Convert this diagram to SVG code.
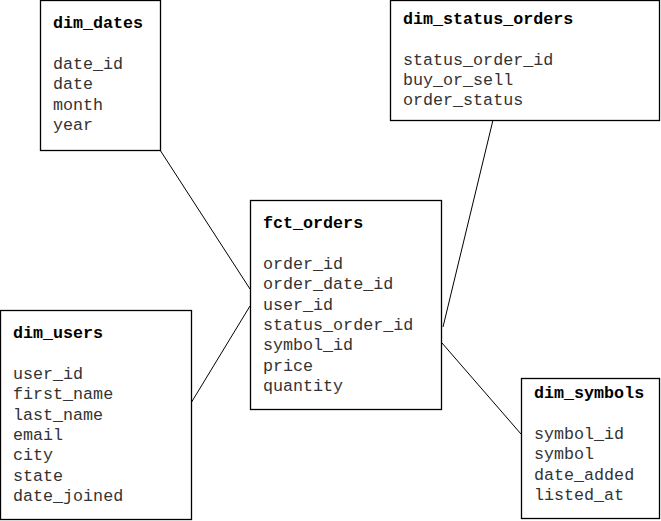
<svg xmlns="http://www.w3.org/2000/svg" width="661" height="521" viewBox="0 0 661 521">
<style>
.box{fill:#fff;stroke:#000;stroke-width:1.3}
.t{font-family:"Liberation Mono","Courier New",monospace;font-size:16.7px;fill:#000}
.h{font-weight:bold}
.f{fill:#333}
.c{stroke:#000;stroke-width:1;fill:none}
</style>
<rect width="661" height="521" fill="#fff"/>
<g id="connectors">
<line class="c" x1="160" y1="150" x2="250" y2="289"/>
<line class="c" x1="191" y1="403" x2="250" y2="306"/>
<line class="c" x1="493" y1="120" x2="443" y2="327"/>
<line class="c" x1="442" y1="343" x2="521" y2="434"/>
</g>
<g id="dim_dates">
<rect class="box" x="40.5" y="0.5" width="120" height="150"/>
<text class="t h" x="53" y="28">dim_dates</text>
<text class="t f" x="53" y="69">date_id</text>
<text class="t f" x="53" y="89.3">date</text>
<text class="t f" x="53" y="109.6">month</text>
<text class="t f" x="53" y="130">year</text>
</g>
<g id="dim_status_orders">
<rect class="box" x="390.5" y="0.5" width="269" height="120"/>
<text class="t h" x="403" y="24">dim_status_orders</text>
<text class="t f" x="403" y="64.5">status_order_id</text>
<text class="t f" x="403" y="84.8">buy_or_sell</text>
<text class="t f" x="403" y="105.1">order_status</text>
</g>
<g id="fct_orders">
<rect class="box" x="250.5" y="200.5" width="191" height="209"/>
<text class="t h" x="263" y="228">fct_orders</text>
<text class="t f" x="263" y="269">order_id</text>
<text class="t f" x="263" y="289.3">order_date_id</text>
<text class="t f" x="263" y="309.6">user_id</text>
<text class="t f" x="263" y="330">status_order_id</text>
<text class="t f" x="263" y="350.3">symbol_id</text>
<text class="t f" x="263" y="370.6">price</text>
<text class="t f" x="263" y="391">quantity</text>
</g>
<g id="dim_users">
<rect class="box" x="0.5" y="310.5" width="191" height="209"/>
<text class="t h" x="13" y="338">dim_users</text>
<text class="t f" x="13" y="379">user_id</text>
<text class="t f" x="13" y="399.3">first_name</text>
<text class="t f" x="13" y="419.6">last_name</text>
<text class="t f" x="13" y="440">email</text>
<text class="t f" x="13" y="460.3">city</text>
<text class="t f" x="13" y="480.6">state</text>
<text class="t f" x="13" y="501">date_joined</text>
</g>
<g id="dim_symbols">
<rect class="box" x="521.5" y="378.5" width="138" height="140"/>
<text class="t h" x="534" y="398">dim_symbols</text>
<text class="t f" x="534" y="439">symbol_id</text>
<text class="t f" x="534" y="459.3">symbol</text>
<text class="t f" x="534" y="479.6">date_added</text>
<text class="t f" x="534" y="500">listed_at</text>
</g>
</svg>
